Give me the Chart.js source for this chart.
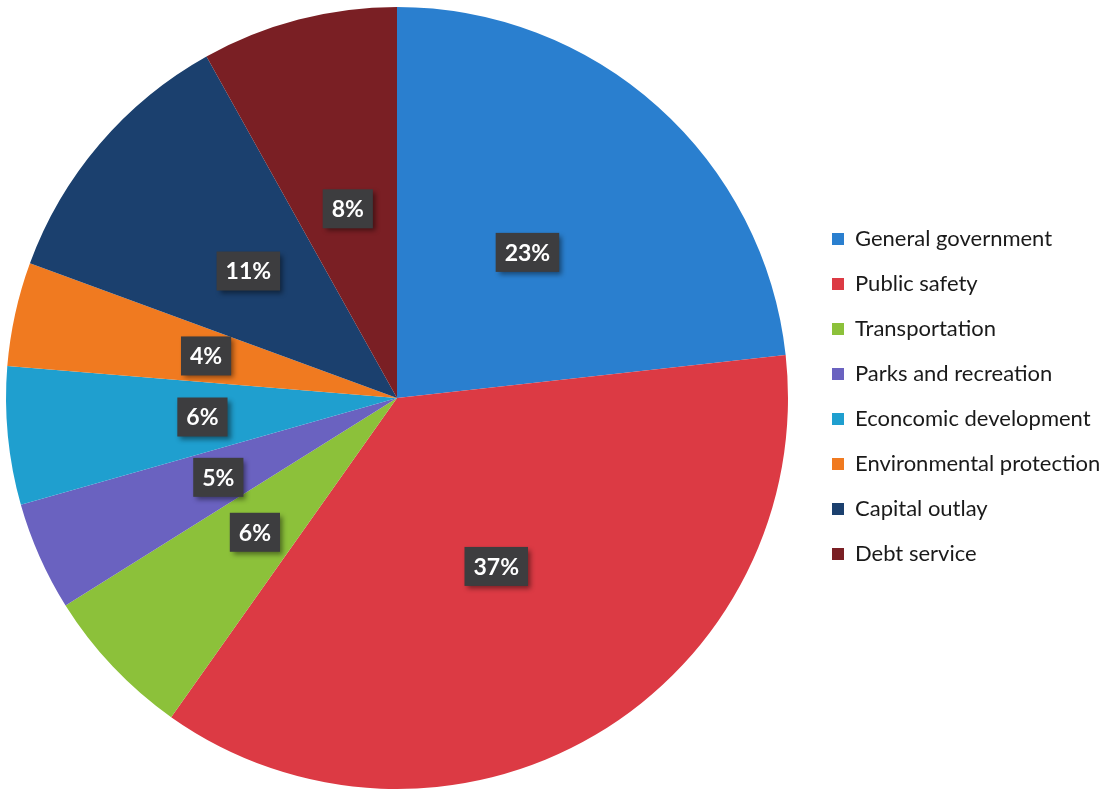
<!DOCTYPE html>
<html>
<head>
<meta charset="utf-8">
<script src="https://cdn.jsdelivr.net/npm/chart.js@4/dist/chart.umd.min.js"></script>
<style>
  html, body { margin: 0; padding: 0; background: #fff; }
  #wrap { width: 1114px; height: 792px; }
</style>
</head>
<body>
<div id="wrap"><canvas id="spending"></canvas></div>
<script>
// spending shares (percent), clockwise from 12 o'clock
var categories = ['General government', 'Public safety', 'Transportation', 'Parks and recreation',
    'Econcomic development', 'Environmental protection', 'Capital outlay', 'Debt service'];
var shares = [23.25, 36.55, 6.3, 4.5, 5.7, 4.3, 11.3, 8.1];
var shareLabels = ['23%', '37%', '6%', '5%', '6%', '4%', '11%', '8%'];
var sliceColors = ['#2a7fcf', '#dc3a44', '#8cc13a', '#6a62c0', '#1f9fcf', '#f07a20', '#1b406e', '#7a1f24'];

// dark boxed percent labels in the middle of each slice
var boxLabels = {
    id: 'boxLabels',
    afterDatasetsDraw: function(chart) {
        var ctx = chart.ctx;
        var meta = chart.getDatasetMeta(0);
        ctx.save();
        ctx.font = 'bold 23px Lato';
        ctx.textAlign = 'center';
        ctx.textBaseline = 'middle';
        meta.data.forEach(function(arc, i) {
            var pos = arc.tooltipPosition();
            var txt = shareLabels[i];
            var w = ctx.measureText(txt).width + 18;
            var h = 39;
            ctx.shadowColor = 'rgba(0,0,0,0.45)';
            ctx.shadowBlur = 5;
            ctx.shadowOffsetX = 3;
            ctx.shadowOffsetY = 3;
            ctx.fillStyle = '#3d3d3f';
            ctx.fillRect(pos.x - w / 2, pos.y - h / 2, w, h);
            ctx.shadowColor = 'transparent';
            ctx.fillStyle = '#ffffff';
            ctx.fillText(txt, pos.x, pos.y + 1);
        });
        ctx.restore();
    }
};

// legend on the right, drawn by hand to match spacing
var sideLegend = {
    id: 'sideLegend',
    afterDraw: function(chart) {
        var ctx = chart.ctx;
        var labels = chart.data.labels;
        var colors = chart.data.datasets[0].backgroundColor;
        ctx.save();
        ctx.font = '22px Lato';
        ctx.textAlign = 'left';
        ctx.textBaseline = 'middle';
        for (var i = 0; i < labels.length; i++) {
            var y = 239 + i * 45;
            ctx.fillStyle = colors[i];
            ctx.fillRect(832, y - 6, 12, 12);
            ctx.fillStyle = '#1a1a1a';
            ctx.fillText(labels[i], 855, y);
        }
        ctx.restore();
    }
};

var chart = new Chart(document.getElementById('spending'), {
    type: 'pie',
    data: {
        labels: categories,
        datasets: [{
            data: shares,
            backgroundColor: sliceColors,
            borderWidth: 0
        }]
    },
    options: {
        responsive: true,
        maintainAspectRatio: false,
        animation: false,
        layout: { padding: { left: 6, right: 326, top: 7, bottom: 3 } },
        plugins: {
            legend: { display: false },
            tooltip: { enabled: false }
        }
    },
    plugins: [boxLabels, sideLegend]
});
</script>
</body>
</html>
